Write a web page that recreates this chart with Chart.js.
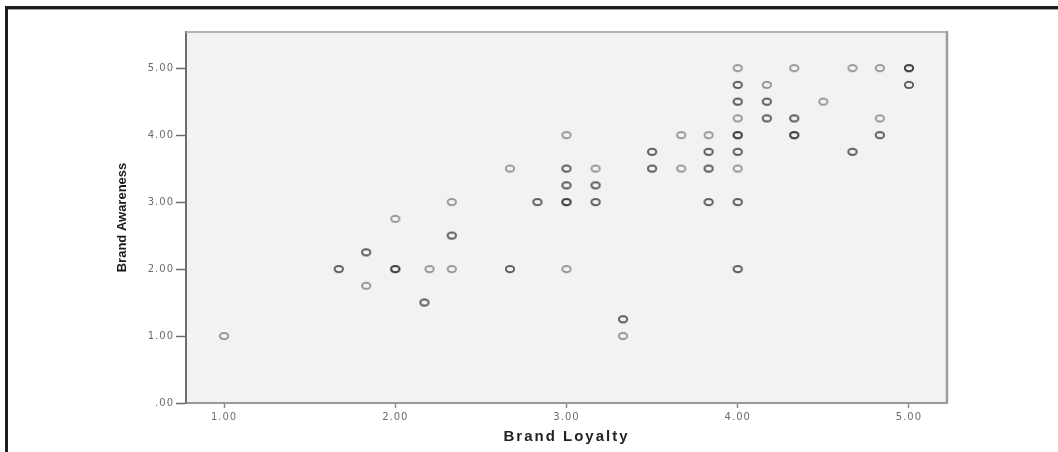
<!DOCTYPE html>
<html>
<head>
<meta charset="utf-8">
<script src="https://cdn.jsdelivr.net/npm/chart.js@4.4.1/dist/chart.umd.min.js"></script>
<style>
  html, body { margin: 0; padding: 0; background: #ffffff; }
  #wrap { width: 1058px; height: 452px; position: relative; }
</style>
</head>
<body>
<div id="wrap"><canvas id="c"></canvas></div>
<script>
// Brand Loyalty (x) against Brand Awareness (y); cases = respondents sharing a point
const loyalty = [
  1.00, 1.67, 1.83, 1.83, 2.00, 2.00, 2.17, 2.20, 2.33, 2.33, 2.33,
  2.67, 2.67, 2.83, 3.00, 3.00, 3.00, 3.00, 3.00, 3.17, 3.17, 3.17,
  3.33, 3.33, 3.50, 3.50, 3.67, 3.67, 3.83, 3.83, 3.83, 3.83,
  4.00, 4.00, 4.00, 4.00, 4.00, 4.00, 4.00, 4.00, 4.00,
  4.17, 4.17, 4.17, 4.33, 4.33, 4.33, 4.50, 4.67, 4.67,
  4.83, 4.83, 4.83, 5.00, 5.00
];
const awareness = [
  1.00, 2.00, 2.25, 1.75, 2.75, 2.00, 1.50, 2.00, 3.00, 2.50, 2.00,
  3.50, 2.00, 3.00, 4.00, 3.50, 3.25, 3.00, 2.00, 3.50, 3.25, 3.00,
  1.25, 1.00, 3.75, 3.50, 4.00, 3.50, 4.00, 3.75, 3.50, 3.00,
  5.00, 4.75, 4.50, 4.25, 4.00, 3.75, 3.50, 3.00, 2.00,
  4.75, 4.50, 4.25, 5.00, 4.25, 4.00, 4.50, 5.00, 3.75,
  5.00, 4.25, 4.00, 5.00, 4.75
];
const cases = [
  1, 2, 2, 1, 1, 3, 2, 1, 1, 2, 1,
  1, 2, 2, 1, 2, 2, 3, 1, 1, 2, 2,
  2, 1, 2, 2, 1, 1, 1, 2, 2, 2,
  1, 2, 2, 1, 3, 2, 1, 2, 2,
  1, 2, 2, 1, 2, 3, 1, 1, 2,
  1, 1, 2, 3, 2
];

const xTicks = [1, 2, 3, 4, 5];
const xTickLabels = ['1.00', '2.00', '3.00', '4.00', '5.00'];
const yTicks = [0, 1, 2, 3, 4, 5];
const yTickLabels = ['.00', '1.00', '2.00', '3.00', '4.00', '5.00'];

// one point per respondent, so coinciding answers stack darker
const points = [];
loyalty.forEach((x, i) => {
  for (let k = 0; k < cases[i]; k++) points.push({ x: x, y: awareness[i] });
});

// small open ellipse marker
const marker = document.createElement('canvas');
marker.width = 12;
marker.height = 10;
const mctx = marker.getContext('2d');
mctx.strokeStyle = 'rgba(20,20,20,0.45)';
mctx.lineWidth = 1.7;
mctx.beginPath();
mctx.ellipse(6, 5, 4.2, 3.1, 0, 0, Math.PI * 2);
mctx.stroke();

// letter spacing used for each axis title
const titleSpacing = { x: '2px', y: '0px' };

const framePlugin = {
  id: 'frame',
  beforeDraw(chart) {
    const ctx = chart.ctx;
    const a = chart.chartArea;
    ctx.save();
    // page frame
    ctx.fillStyle = '#1e1e1e';
    ctx.fillRect(5, 6, 1053, 3);
    ctx.fillRect(5, 6, 3, 446);
    ctx.fillStyle = '#a0a0a0';
    ctx.fillRect(8, 9, 1050, 1);
    // plot background
    ctx.fillStyle = '#f2f2f2';
    ctx.fillRect(a.left, a.top, a.right - a.left, a.bottom - a.top);
    ctx.restore();
    // spaced-out tick labels; titles get their own spacing
    ctx.letterSpacing = '1px';
    Object.keys(titleSpacing).forEach(id => {
      const scale = chart.scales[id];
      if (scale && !scale._spacedTitle) {
        const drawTitle = scale.drawTitle.bind(scale);
        scale.drawTitle = function () {
          const prev = this.ctx.letterSpacing;
          this.ctx.letterSpacing = titleSpacing[id];
          drawTitle();
          this.ctx.letterSpacing = prev;
        };
        scale._spacedTitle = true;
      }
    });
  },
  beforeDatasetsDraw(chart) {
    const ctx = chart.ctx;
    const a = chart.chartArea;
    ctx.save();
    ctx.letterSpacing = '0px';
    ctx.strokeStyle = '#b4b4b4';
    ctx.lineWidth = 2;
    ctx.beginPath();
    ctx.moveTo(a.left, a.top);
    ctx.lineTo(a.right, a.top);
    ctx.stroke();
    ctx.strokeStyle = '#9c9c9c';
    ctx.lineWidth = 2.5;
    ctx.beginPath();
    ctx.moveTo(a.right, a.top - 1);
    ctx.lineTo(a.right, a.bottom);
    ctx.stroke();
    ctx.restore();
  },
  afterDraw(chart) {
    chart.ctx.letterSpacing = '0px';
  }
};

new Chart(document.getElementById('c'), {
  type: 'scatter',
  data: {
    datasets: [{
      data: points,
      pointStyle: marker,
      pointRadius: 5,
      pointHoverRadius: 5
    }]
  },
  options: {
    responsive: true,
    maintainAspectRatio: false,
    animation: false,
    events: [],
    layout: { padding: { left: 0, top: 32, right: 111, bottom: 0 } },
    plugins: { legend: { display: false }, tooltip: { enabled: false } },
    scales: {
      x: {
        type: 'linear',
        min: 0.7778,
        max: 5.2222,
        afterBuildTicks: s => { s.ticks = xTicks.map(v => ({ value: v })); },
        afterFit: s => { s.height = 49; },
        ticks: {
          callback: v => xTickLabels[xTicks.indexOf(v)],
          color: '#6c6c6c',
          font: { family: 'DejaVu Sans', size: 10 },
          padding: 3,
          maxRotation: 0,
          autoSkip: false
        },
        grid: { drawOnChartArea: false, drawTicks: true, tickLength: 5, tickColor: '#8a8a8a', tickWidth: 1.5 },
        border: { color: '#9a9a9a', width: 2 },
        title: {
          display: true,
          text: 'Brand Loyalty',
          color: '#222222',
          font: { family: 'Liberation Sans', size: 15, weight: 'bold' },
          padding: { top: 0, bottom: 6 }
        }
      },
      y: {
        type: 'linear',
        min: 0,
        max: 5.54,
        afterBuildTicks: s => { s.ticks = yTicks.map(v => ({ value: v })); },
        afterFit: s => { s.width = 186; },
        ticks: {
          callback: v => yTickLabels[yTicks.indexOf(v)],
          color: '#6c6c6c',
          font: { family: 'DejaVu Sans', size: 10 },
          padding: 2,
          autoSkip: false
        },
        grid: { drawOnChartArea: false, drawTicks: true, tickLength: 10, tickColor: '#6a6a6a', tickWidth: 1.5 },
        border: { color: '#6e6e6e', width: 2 },
        title: {
          display: true,
          text: 'Brand Awareness',
          color: '#1a1a1a',
          font: { family: "'Liberation Sans', Arial, sans-serif", size: 13, weight: 'bold' },
          padding: { top: 115, bottom: 0 }
        }
      }
    }
  },
  plugins: [framePlugin]
});
</script>
</body>
</html>
